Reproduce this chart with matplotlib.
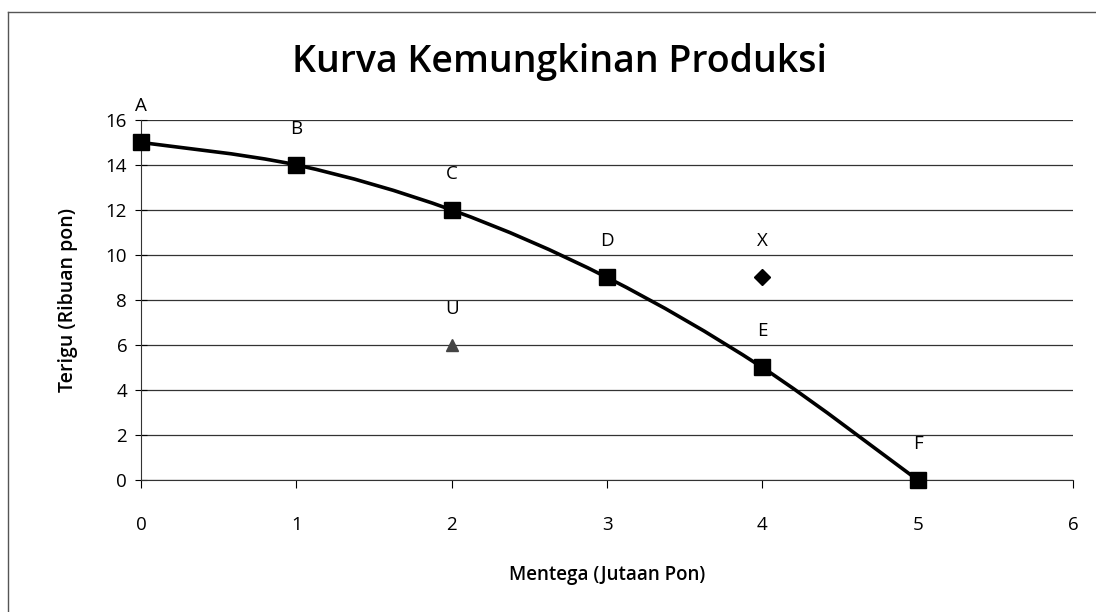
import numpy as np
import matplotlib.pyplot as plt
from matplotlib.path import Path
from matplotlib.patches import PathPatch

# production possibility points
mentega = [0, 1, 2, 3, 4, 5]
terigu = [15, 14, 12, 9, 5, 0]
titik = ['A', 'B', 'C', 'D', 'E', 'F']

# points off the curve
x_pt = [4]
x_val = [9]
u_pt = [2]
u_val = [6]

yticks = [0, 2, 4, 6, 8, 10, 12, 14, 16]
xticks = [0, 1, 2, 3, 4, 5, 6]

plt.rcParams['font.family'] = ['Open Sans', 'DejaVu Sans']

fig = plt.figure(figsize=(10.96, 6.12), dpi=100)
ax = fig.add_axes([0.1287, 0.2157, 0.979 - 0.1287, 0.804 - 0.2157])

# smooth line through the points (catmull-rom as bezier, like excel smoothing)
px = np.array(mentega, dtype=float)
py = np.array(terigu, dtype=float)
verts = [(px[0], py[0])]
codes = [Path.MOVETO]
n = len(px)
for i in range(n - 1):
    p0 = (px[max(i - 1, 0)], py[max(i - 1, 0)])
    p1 = (px[i], py[i])
    p2 = (px[i + 1], py[i + 1])
    p3 = (px[min(i + 2, n - 1)], py[min(i + 2, n - 1)])
    c1 = (p1[0] + (p2[0] - p0[0]) / 6, p1[1] + (p2[1] - p0[1]) / 6)
    c2 = (p2[0] - (p3[0] - p1[0]) / 6, p2[1] - (p3[1] - p1[1]) / 6)
    verts += [c1, c2, p2]
    codes += [Path.CURVE4] * 3
ax.add_patch(PathPatch(Path(verts, codes), fill=False, lw=2.6, color='black', zorder=3))

ax.plot(mentega, terigu, 's', ms=11, color='black', zorder=4, clip_on=False)
ax.plot(x_pt, x_val, 'D', ms=8, color='black', zorder=4)
ax.plot(u_pt, u_val, '^', ms=9, color='#444444', zorder=4)

for xv, yv, t in zip(mentega, terigu, titik):
    ax.annotate(t, (xv, yv), xytext=(0, 26), textcoords='offset points',
                ha='center', va='center', fontsize=13.5)
ax.annotate('X', (x_pt[0], x_val[0]), xytext=(0, 26), textcoords='offset points',
            ha='center', va='center', fontsize=13.5)
ax.annotate('U', (u_pt[0], u_val[0]), xytext=(0, 26), textcoords='offset points',
            ha='center', va='center', fontsize=13.5)

ax.set_xlim(0, 6)
ax.set_ylim(0, 16)
ax.set_xticks(xticks)
ax.set_yticks(yticks)
ax.tick_params(axis='x', direction='out', length=6, pad=20, labelsize=13.5)
ax.tick_params(axis='y', direction='inout', length=8, pad=6, labelsize=13.5)
ax.grid(axis='y', color='#333333', lw=0.9)
ax.set_axisbelow(True)
for s in ['top', 'right']:
    ax.spines[s].set_visible(False)
ax.spines['left'].set_color('#333333')
ax.spines['bottom'].set_color('#333333')

ax.set_xlabel('Mentega (Jutaan Pon)', fontsize=13.5, fontweight='semibold', labelpad=22)
ax.set_ylabel('Terigu (Ribuan pon)', fontsize=14, fontweight='semibold', labelpad=20)
fig.text(560 / 1096, 1 - 62 / 612, 'Kurva Kemungkinan Produksi', ha='center', va='center',
         fontsize=27, fontweight='semibold')

# chart border (only top and left edges show in the scan)
fig.add_artist(plt.Line2D([8 / 1096, 1], [1 - 12 / 612, 1 - 12 / 612], color='#555555', lw=1))
fig.add_artist(plt.Line2D([8 / 1096, 8 / 1096], [0, 1 - 12 / 612], color='#555555', lw=1))

fig.savefig('out.png', dpi=100)
